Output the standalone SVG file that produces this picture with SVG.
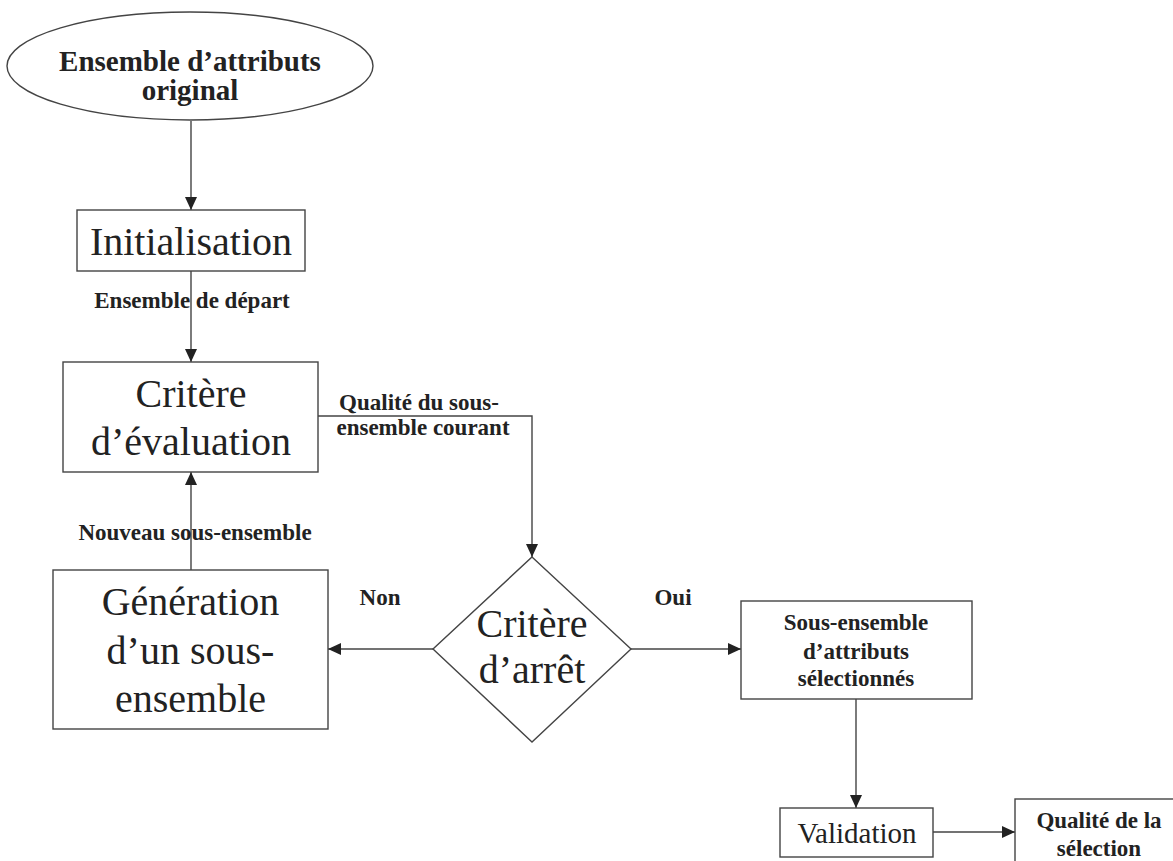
<svg xmlns="http://www.w3.org/2000/svg" width="1173" height="861" viewBox="0 0 1173 861">
  <style>
    .shape { fill: #ffffff; stroke: #444444; stroke-width: 1.4; }
    .conn { fill: none; stroke: #444444; stroke-width: 1.4; marker-end: url(#arrow); }
    text { font-family: "Liberation Serif", "Times New Roman", serif; fill: #222222; text-anchor: middle; }
    .big { font-size: 40px; }
    .mid { font-size: 29px; }
    .lbl { font-size: 23px; font-weight: bold; }
    .ell { font-size: 29px; font-weight: bold; }
  </style>
  <defs>
    <marker id="arrow" markerUnits="userSpaceOnUse" markerWidth="14" markerHeight="12" refX="13" refY="6" orient="auto">
      <path d="M0,0 L13,6 L0,12 Z" fill="#222222"/>
    </marker>
  </defs>
  <rect x="0" y="0" width="1173" height="861" fill="#ffffff"/>

  <g id="connectors">
    <path class="conn" d="M191,121 V210"/>
    <path class="conn" d="M191,271 V362"/>
    <path class="conn" d="M191,570 V472"/>
    <path class="conn" d="M318,416 H532 V557"/>
    <path class="conn" d="M433,649 H328"/>
    <path class="conn" d="M631,649 H741"/>
    <path class="conn" d="M856,699 V808"/>
    <path class="conn" d="M933,832 H1015"/>
    <text class="lbl" x="192" y="308">Ensemble de départ</text>
    <text class="lbl" x="195" y="540">Nouveau sous-ensemble</text>
    <text class="lbl" x="419" y="410">Qualité du sous-</text>
    <text class="lbl" x="423" y="435">ensemble courant</text>
    <text class="lbl" x="380" y="605">Non</text>
    <text class="lbl" x="673" y="605">Oui</text>
  </g>

  <g id="node-original">
    <ellipse class="shape" cx="190" cy="66" rx="183" ry="54"/>
    <text class="ell" x="190" y="71">Ensemble d’attributs</text>
    <text class="ell" x="190" y="100">original</text>
  </g>

  <g id="node-init">
    <rect class="shape" x="77" y="210" width="228" height="61"/>
    <text class="big" x="191" y="255">Initialisation</text>
  </g>

  <g id="node-eval">
    <rect class="shape" x="63" y="362" width="255" height="110"/>
    <text class="big" x="191" y="407">Critère</text>
    <text class="big" x="191" y="455">d’évaluation</text>
  </g>

  <g id="node-gen">
    <rect class="shape" x="53" y="570" width="275" height="159"/>
    <text class="big" x="190.5" y="615">Génération</text>
    <text class="big" x="190.5" y="664">d’un sous-</text>
    <text class="big" x="190.5" y="712">ensemble</text>
  </g>

  <g id="node-stop">
    <polygon class="shape" points="532,557 631,649 532,742 433,649"/>
    <text class="big" x="532" y="637">Critère</text>
    <text class="big" x="532" y="683">d’arrêt</text>
  </g>

  <g id="node-selected">
    <rect class="shape" x="741" y="601" width="231" height="98"/>
    <text class="lbl" x="856" y="630">Sous-ensemble</text>
    <text class="lbl" x="856" y="659">d’attributs</text>
    <text class="lbl" x="856" y="686">sélectionnés</text>
  </g>

  <g id="node-validation">
    <rect class="shape" x="780" y="808" width="153" height="49"/>
    <text class="mid" x="857" y="843">Validation</text>
  </g>

  <g id="node-quality">
    <rect class="shape" x="1015" y="799" width="170" height="80"/>
    <text class="lbl" x="1099" y="828">Qualité de la</text>
    <text class="lbl" x="1099" y="856">sélection</text>
  </g>
</svg>
